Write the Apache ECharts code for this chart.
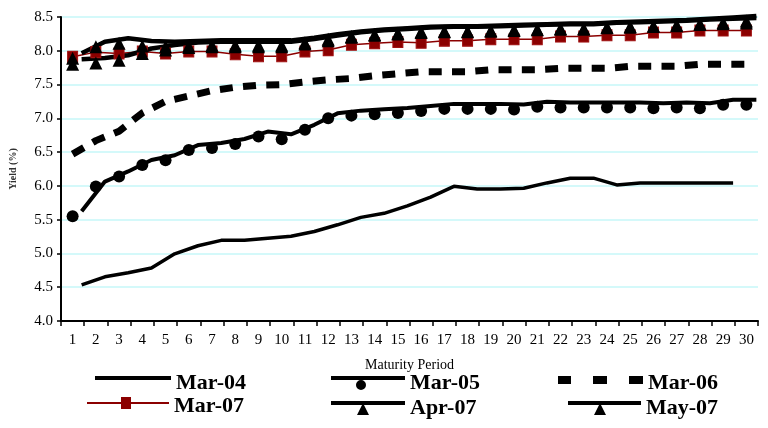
<!DOCTYPE html>
<html>
<head>
<meta charset="utf-8">
<script src="https://cdn.jsdelivr.net/npm/echarts@6/dist/echarts.min.js"></script>
<style>
html,body{margin:0;padding:0;background:#fff;}
#chart{width:768px;height:428px;}
</style>
</head>
<body>
<div id="chart"></div>
<script>
// ---- data ----
const periods = ['1','2','3','4','5','6','7','8','9','10','11','12','13','14','15','16','17','18','19','20','21','22','23','24','25','26','27','28','29','30'];
const yTicks = [4.0, 4.5, 5.0, 5.5, 6.0, 6.5, 7.0, 7.5, 8.0, 8.5];
const seriesNames = ['Mar-04','Mar-05','Mar-06','Mar-07','Apr-07','May-07'];
const mar04 = [4.46, 4.58, 4.64, 4.71, 4.92, 5.04, 5.12, 5.12, 5.15, 5.18, 5.25, 5.35, 5.46, 5.52, 5.63, 5.76, 5.92, 5.88, 5.88, 5.89, 5.97, 6.04, 6.04, 5.94, 5.97, 5.97, 5.97, 5.97, 5.97];
const mar05 = [5.55, 5.99, 6.14, 6.31, 6.38, 6.53, 6.56, 6.62, 6.73, 6.69, 6.83, 7.00, 7.04, 7.06, 7.08, 7.11, 7.14, 7.14, 7.14, 7.13, 7.17, 7.16, 7.16, 7.16, 7.16, 7.15, 7.16, 7.15, 7.20, 7.20];
const mar06 = [6.47, 6.67, 6.81, 7.08, 7.25, 7.33, 7.41, 7.46, 7.49, 7.50, 7.54, 7.57, 7.59, 7.63, 7.66, 7.69, 7.69, 7.69, 7.72, 7.72, 7.72, 7.74, 7.74, 7.74, 7.77, 7.77, 7.77, 7.80, 7.80, 7.80];
const mar07 = [7.91, 7.98, 7.96, 7.99, 7.96, 7.99, 7.99, 7.95, 7.92, 7.92, 7.99, 8.01, 8.09, 8.11, 8.13, 8.12, 8.15, 8.15, 8.17, 8.17, 8.17, 8.21, 8.21, 8.23, 8.23, 8.27, 8.27, 8.30, 8.30, 8.30];
const apr07 = [7.80, 7.82, 7.86, 7.96, 8.01, 8.05, 8.06, 8.06, 8.06, 8.06, 8.10, 8.15, 8.20, 8.23, 8.25, 8.27, 8.28, 8.28, 8.29, 8.30, 8.31, 8.32, 8.32, 8.34, 8.35, 8.36, 8.37, 8.39, 8.40, 8.41];
const may07 = [7.89, 8.06, 8.11, 8.07, 8.06, 8.07, 8.08, 8.08, 8.08, 8.08, 8.12, 8.17, 8.21, 8.24, 8.26, 8.28, 8.29, 8.29, 8.30, 8.31, 8.32, 8.33, 8.33, 8.35, 8.36, 8.37, 8.38, 8.40, 8.42, 8.44];

// ---- styles ----
const SERIF = 'Liberation Serif';
const BLACK = '#000000';
const RED = '#8B0000';

function lineOnly(name, data, width, grid, color, extra) {
  return Object.assign({
    name: name, type: 'line', data: data,
    xAxisIndex: grid, yAxisIndex: grid,
    symbol: 'none', smooth: false,
    itemStyle: {color: color},
    lineStyle: {color: color, width: width},
    emphasis: {disabled: true}
  }, extra || {});
}
function marksOnly(name, data, symbol, size, color) {
  return {
    name: name, type: 'line', data: data,
    xAxisIndex: 0, yAxisIndex: 0,
    symbol: symbol, symbolSize: size, showSymbol: true, showAllSymbol: true,
    itemStyle: {color: color},
    lineStyle: {width: 0, opacity: 0},
    emphasis: {disabled: true}
  };
}

const legendText = {fontFamily: SERIF, fontSize: 22, fontWeight: 'bold', color: BLACK};
function legendItem(name, left, top, w, h, icon, color) {
  return {
    data: [name], left: left, top: top, padding: 0,
    itemWidth: w, itemHeight: h, icon: icon, symbolKeepAspect: false,
    itemStyle: {color: color, borderWidth: 0},
    selectedMode: false,
    textStyle: legendText
  };
}
// tiny invisible-size corner mark to fix the icon box height
function pad(w, h) { return ' M' + (w - 0.01) + ',' + (h - 0.01) + 'H' + w + 'V' + h + 'H' + (w - 0.01) + 'Z'; }

const chart = echarts.init(document.getElementById('chart'), null, {renderer: 'canvas'});
const option = {
  animation: false,
  backgroundColor: '#ffffff',
  grid: [
    {left: 60, right: 10, top: 17, bottom: 107},
    {left: 70, right: 0, top: 12, bottom: 112}
  ],
  xAxis: [
    {
      type: 'category', gridIndex: 0, data: periods, boundaryGap: true,
      axisLine: {lineStyle: {color: BLACK, width: 2}},
      axisTick: {show: true, length: 5, lineStyle: {color: BLACK, width: 1.5}},
      axisLabel: {interval: 0, margin: 12, color: BLACK, fontFamily: SERIF, fontSize: 15},
      splitLine: {show: false},
      name: 'Maturity Period', nameLocation: 'middle', nameGap: 37,
      nameTextStyle: {color: BLACK, fontFamily: SERIF, fontSize: 14}
    },
    {type: 'category', gridIndex: 1, data: periods, boundaryGap: true, show: false}
  ],
  yAxis: [
    {
      type: 'value', gridIndex: 0, min: yTicks[0], max: yTicks[yTicks.length - 1], interval: 0.5,
      axisLine: {show: true, lineStyle: {color: BLACK, width: 2}},
      axisTick: {show: true, length: 4, lineStyle: {color: BLACK, width: 1.5}},
      axisLabel: {formatter: v => v.toFixed(1), margin: 8, color: BLACK, fontFamily: SERIF, fontSize: 15},
      splitLine: {show: true, lineStyle: {color: '#c6f7f9', width: 1.5}},
      name: 'Yield (%)', nameLocation: 'middle', nameGap: 43, nameRotate: 90,
      nameTextStyle: {color: '#333', fontFamily: SERIF, fontSize: 10, fontWeight: 'bold'}
    },
    {type: 'value', gridIndex: 1, min: yTicks[0], max: yTicks[yTicks.length - 1], show: false}
  ],
  legend: [
    legendItem(seriesNames[0], 95, 372, 76, 14, 'path://M0,0H76V4H0Z' + pad(76, 14), BLACK),
    legendItem(seriesNames[1], 331, 372, 74, 14, 'path://M0,0H74V4H0Z M25,9A5,5 0 1,1 35,9A5,5 0 1,1 25,9Z', BLACK),
    legendItem(seriesNames[2], 558, 372, 85, 14, 'path://M0,0H13V8H0Z M35,0H49V8H35Z M71,0H85V8H71Z' + pad(85, 14), BLACK),
    legendItem(seriesNames[3], 87, 395, 82, 18, 'path://M0,5H82V7H0Z M34,0H44V12H34Z' + pad(82, 18), RED),
    legendItem(seriesNames[4], 331, 397, 74, 14, 'path://M0,0H74V4H0Z M32,2L38,14L26,14Z', BLACK),
    legendItem(seriesNames[5], 568, 397, 73, 14, 'path://M0,0H73V4H0Z M32,2L38,14L26,14Z', BLACK)
  ],
  series: [
    lineOnly(seriesNames[0], mar04, 3.5, 1, BLACK),
    lineOnly(seriesNames[1], mar05, 4, 1, BLACK),
    marksOnly(seriesNames[1], mar05, 'circle', 12, BLACK),
    lineOnly(seriesNames[2], mar06, 7, 0, BLACK, {lineStyle: {color: BLACK, width: 7, type: [13, 10.3], cap: 'butt'}}),
    {
      name: seriesNames[3], type: 'line', data: mar07, xAxisIndex: 0, yAxisIndex: 0,
      symbol: 'rect', symbolSize: [10, 11], showSymbol: true, showAllSymbol: true,
      itemStyle: {color: RED, borderColor: '#a01010', borderWidth: 1},
      lineStyle: {color: RED, width: 1.5},
      emphasis: {disabled: true}
    },
    lineOnly(seriesNames[4], apr07, 4.5, 1, BLACK),
    marksOnly(seriesNames[4], apr07, 'triangle', [13, 13], BLACK),
    lineOnly(seriesNames[5], may07, 4.5, 1, BLACK),
    marksOnly(seriesNames[5], may07, 'triangle', [13, 13], BLACK)
  ]
};
chart.setOption(option);
</script>
</body>
</html>
